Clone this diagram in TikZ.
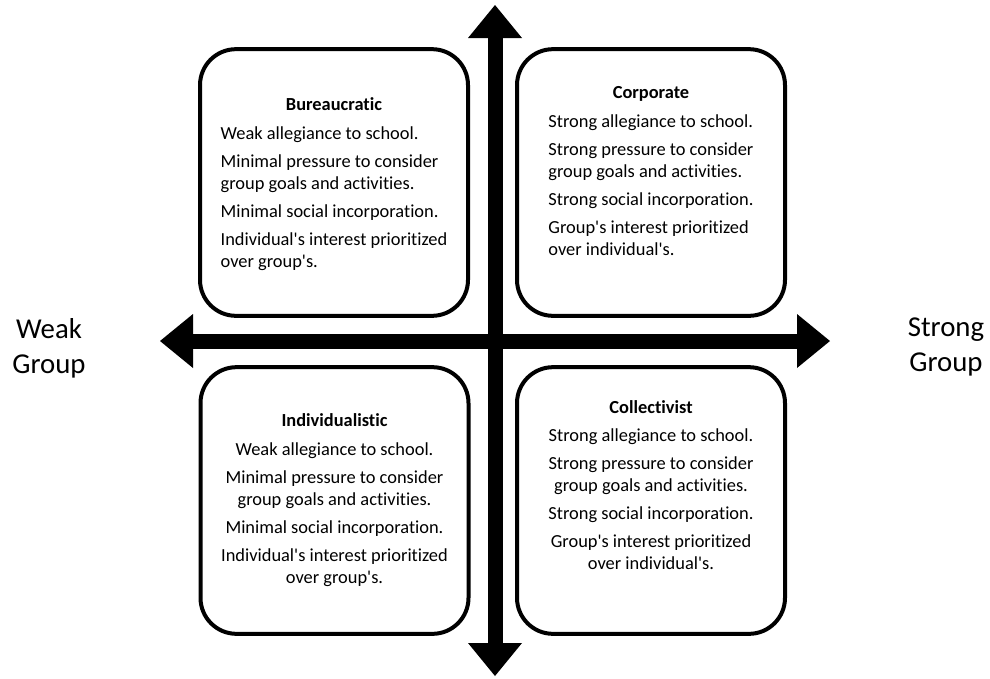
\documentclass[tikz,border=0pt]{standalone}
\usepackage{fontspec}
\setmainfont{Carlito}[Ligatures=NoCommon]
\usetikzlibrary{arrows.meta}

\newcommand{\quadtitle}[1]{{\bfseries #1}}
\newcommand{\apos}{\textquotesingle}

\begin{document}
\begin{tikzpicture}[x=0.75pt,y=-0.75pt,
  quad/.style={draw,line width=3pt,rounded corners=27pt,minimum width=201pt,minimum height=200pt,inner sep=0pt,font=\fontsize{13.8}{16.5}\selectfont},
  axis/.style={line width=11.25pt,{Triangle[length=24.75pt,width=40.5pt,line width=0pt]}-{Triangle[length=24.75pt,width=40.5pt,line width=0pt]}},
  side/.style={align=center,font=\fontsize{21.6}{26.25}\selectfont}]

\useasboundingbox (0,0) rectangle (990,679);

% the two axes
\coordinate (up) at (495,5);
\coordinate (down) at (495,676);
\coordinate (left) at (160,341);
\coordinate (right) at (830,341);
\draw[axis] (left) -- (right);
\draw[axis] (down) -- (up);

\node[side] (weak) at (49,348) {Weak\\Group};
\node[side] (strong) at (946,347) {Strong\\Group};

% quadrants
\node[quad] (bureau) at (334,182.5) {\begin{tabular}{@{}l@{}}
\multicolumn{1}{@{}c@{}}{\rule{0pt}{14.5pt}\quadtitle{Bureaucratic}}\\[5pt]
Weak allegiance to school.\\[4.5pt]
Minimal pressure to consider\\
group goals and activities.\\[4.5pt]
Minimal social incorporation.\\[4.5pt]
Individual\apos s interest prioritized\\
over group\apos s.
\end{tabular}};

\node[quad] (corp) at (651,182.5) {\begin{tabular}{@{}l@{}}
\multicolumn{1}{@{}c@{}}{\quadtitle{Corporate}}\\[5pt]
Strong allegiance to school.\\[4.5pt]
Strong pressure to consider\\
group goals and activities.\\[4.5pt]
Strong social incorporation.\\[4.5pt]
Group\apos s interest prioritized\\
over individual\apos s.\\[15pt]
\end{tabular}};

\node[quad] (indiv) at (334.5,500.5) {\begin{tabular}{@{}c@{}}
\quadtitle{Individualistic}\\[5pt]
Weak allegiance to school.\\[4.5pt]
Minimal pressure to consider\\
group goals and activities.\\[4.5pt]
Minimal social incorporation.\\[4.5pt]
Individual\apos s interest prioritized\\
over group\apos s.
\end{tabular}};

\node[quad] (coll) at (651,500.5) {\begin{tabular}{@{}c@{}}
\quadtitle{Collectivist}\\[5pt]
Strong allegiance to school.\\[4.5pt]
Strong pressure to consider\\
group goals and activities.\\[4.5pt]
Strong social incorporation.\\[4.5pt]
Group\apos s interest prioritized\\
over individual\apos s.\\[20pt]
\end{tabular}};
\end{tikzpicture}
\end{document}
